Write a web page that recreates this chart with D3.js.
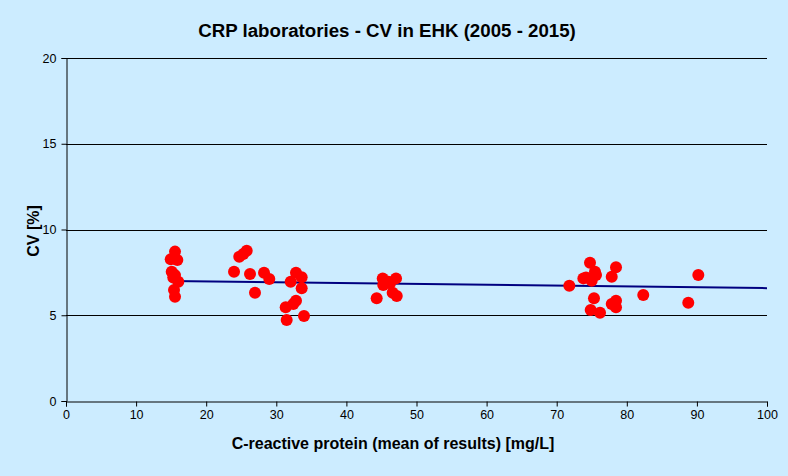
<!DOCTYPE html>
<html><head><meta charset="utf-8">
<script src="https://cdn.jsdelivr.net/npm/d3@7/dist/d3.min.js"></script>
<style>
html,body{margin:0;padding:0;background:#CCECFF;}
svg{display:block;font-family:Arial,"Liberation Sans",sans-serif;}
</style></head>
<body>
<svg id="c" width="788" height="476"></svg>
<script>
const title = "CRP laboratories - CV in EHK (2005 - 2015)";
const xLabel = "C-reactive protein (mean of results) [mg/L]";
const yLabel = "CV [%]";
const xTicks = [0,10,20,30,40,50,60,70,80,90,100];
const yTicks = [0,5,10,15,20];
const pointsX = [15.55,14.94,15.88,15.08,15.55,16.02,15.41,15.55,15.3,
  25.78,25.29,24.72,23.97,26.25,28.25,29.0,26.96,
  32.81,33.62,32.05,33.62,32.81,32.43,31.34,31.48,33.95,
  45.18,47.08,45.26,46.22,46.6,47.18,44.32,46.0,
  74.75,78.46,75.46,73.8,74.99,75.61,77.85,90.2,71.8,82.35,88.77,75.32,77.85,78.46,78.46,74.85,76.18,74.18];
const pointsY = [8.71,8.26,8.22,7.53,7.34,6.95,6.47,6.08,7.2,
  8.76,8.57,8.41,7.54,7.41,7.48,7.11,6.31,
  7.48,7.21,6.96,6.57,5.85,5.66,5.46,4.72,4.96,
  7.15,7.15,6.76,6.86,6.31,6.12,5.99,6.96,
  8.06,7.80,7.54,7.15,7.01,7.35,7.25,7.35,6.72,6.18,5.73,5.99,5.66,5.85,5.46,5.31,5.15,7.2];
const trendX = [14.8,100];
const trendY = [7.0,6.58];

const svg = d3.select("#c");
const x = d3.scaleLinear().domain([0,100]).range([66,767]);
const y = d3.scaleLinear().domain([0,20]).range([401,58]);

// gridlines
svg.append("g").selectAll("line").data(yTicks.filter(d=>d>0)).join("line")
  .attr("x1",x(0)).attr("x2",x(100)).attr("y1",d=>Math.round(y(d))+0.5).attr("y2",d=>Math.round(y(d))+0.5)
  .attr("stroke","#000").attr("stroke-width",1);

// axes
const xAxis = svg.append("g").attr("transform","translate(0,401.5)")
  .call(d3.axisBottom(x).tickValues(xTicks).tickSize(5).tickPadding(4).tickFormat(d3.format("d")));
const yAxis = svg.append("g").attr("transform","translate(66.5,0)")
  .call(d3.axisLeft(y).tickValues(yTicks).tickSize(5).tickPadding(5).tickFormat(d3.format("d")));
[xAxis,yAxis].forEach(g=>{
  g.select(".domain").attr("stroke","#000");
  g.selectAll(".tick line").attr("stroke","#000");
  g.selectAll(".tick text").attr("font-size","12.5px").attr("fill","#000")
   .attr("font-family","'Liberation Sans Narrow','Arial Narrow',Arial,sans-serif");
});

// trend line
const line = d3.line().x(d=>x(d[0])).y(d=>y(d[1]));
svg.append("path").datum(trendX.map((v,i)=>[v,trendY[i]]))
  .attr("d",line).attr("fill","none").attr("stroke","#000080").attr("stroke-width",2);

// points
svg.append("g").selectAll("circle").data(pointsX.map((v,i)=>[v,pointsY[i]])).join("circle")
  .attr("cx",d=>x(d[0])).attr("cy",d=>y(d[1])).attr("r",6).attr("fill","#FF0000");

// text
svg.append("text").attr("x",387).attr("y",37).attr("text-anchor","middle")
  .attr("font-size","18.7px").attr("font-weight","bold").text(title);
svg.append("text").attr("x",393).attr("y",449).attr("text-anchor","middle")
  .attr("font-size","16px").attr("font-weight","bold").text(xLabel);
svg.append("text").attr("transform","translate(39,231) rotate(-90)").attr("text-anchor","middle")
  .attr("font-size","16px").attr("font-weight","bold").text(yLabel);
</script>
</body></html>
